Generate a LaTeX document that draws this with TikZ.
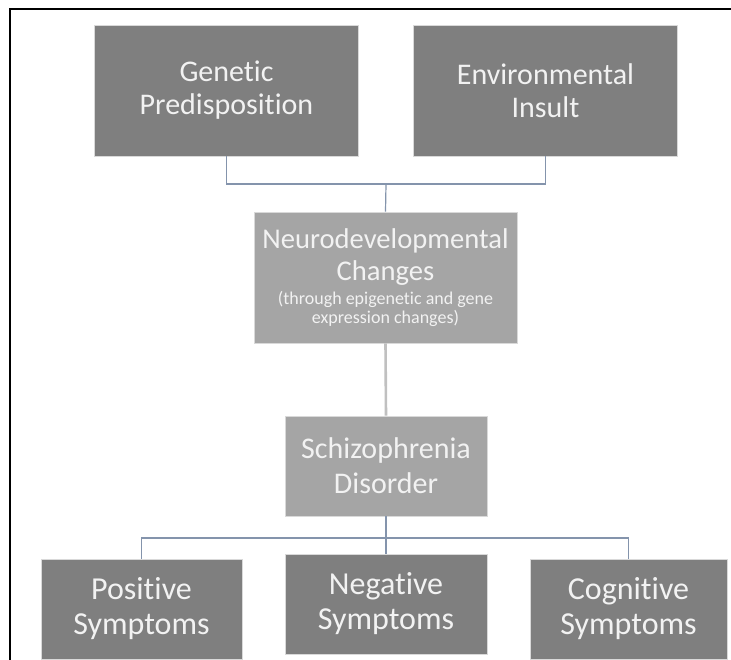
\documentclass[tikz,border=0pt]{standalone}
\usepackage{fontspec}
\setmainfont{Carlito}[Ligatures=NoCommon]
\usepackage{xcolor}
\definecolor{scdark}{RGB}{127,127,127}
\definecolor{sclight}{RGB}{165,165,165}
\definecolor{scline}{RGB}{132,148,172}
\definecolor{scstem}{RGB}{192,192,192}
\definecolor{sctext}{RGB}{242,242,242}
\newcommand{\smalltxt}{\fontsize{18}{19}\selectfont}
\usetikzlibrary{positioning, calc}

\begin{document}
\begin{tikzpicture}[
  x=1pt, y=-1pt,
  box/.style={draw=white!85!black, line width=0.8pt, text=sctext, align=center, inner sep=0pt},
  darkbox/.style={box, fill=scdark},
  lightbox/.style={box, fill=sclight},
  link/.style={draw=scline, line width=1.2pt},
  stem/.style={draw=scstem, line width=2.6pt}
]
  \clip (0,0) rectangle (731,659);
  \fill[white] (0,0) rectangle (731,659);
  % frame
  \draw[line width=2pt] (10,670) -- (10,9) -- (740,9);

  % causes
  \node[darkbox, minimum width=264pt, minimum height=131pt,
        font=\fontsize{30}{33}\selectfont] (genetic) at (226.5,90.5)
    {Genetic\\Predisposition};
  \node[darkbox, minimum width=264pt, minimum height=131pt,
        font=\fontsize{30}{33}\selectfont] (environ) at (545.5,90.5)
    {Environmental\\Insult};

  % middle
  \node[lightbox, minimum width=263pt, minimum height=131pt,
        font=\fontsize{28.6}{32}\selectfont] (neuro) at (385.5,277.5)
    {Neurodevelopmental\\Changes\\[-8pt]
     \smalltxt (through epigenetic and gene\\[-13pt]\smalltxt expression changes)};
  \node[lightbox, minimum width=202pt, minimum height=100pt,
        font=\fontsize{30}{35}\selectfont] (schizo) at (386,466)
    {Schizophrenia\\Disorder};

  % symptoms
  \node[darkbox, minimum width=201pt, minimum height=100pt,
        font=\fontsize{32}{35}\selectfont] (positive) at (141.5,609)
    {Positive\\Symptoms};
  \node[darkbox, minimum width=202pt, minimum height=100pt,
        font=\fontsize{32}{35}\selectfont] (negative) at (386,604)
    {Negative\\Symptoms};
  \node[darkbox, minimum width=197pt, minimum height=100pt,
        font=\fontsize{32}{35}\selectfont] (cognitive) at (628.5,609)
    {Cognitive\\Symptoms};

  % connectors
  \coordinate (topjoin) at (386,184);
  \coordinate (botjoin) at (386,538);
  \draw[link] (genetic.south) |- (topjoin) -| (environ.south);
  \draw[link] (topjoin) -- (neuro.north);
  \draw[stem] (neuro.south) -- (schizo.north);
  \draw[link] (schizo.south) -- (botjoin);
  \draw[link] (positive.north) |- (botjoin) -| (cognitive.north);
  \draw[link] (botjoin) -- (negative.north);
\end{tikzpicture}
\end{document}
